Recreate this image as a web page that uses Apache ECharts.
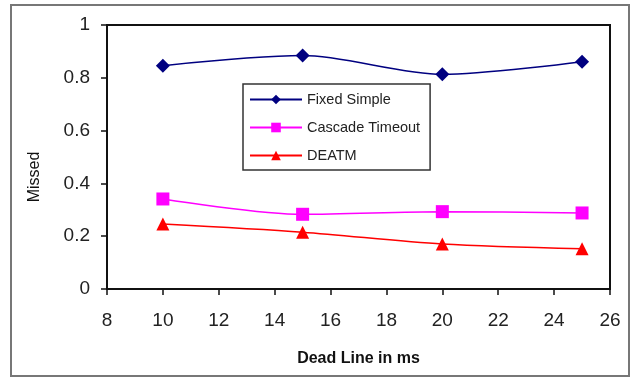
<!DOCTYPE html>
<html lang="en">
<head>
    <meta charset="UTF-8">
    <script src="https://cdn.jsdelivr.net/npm/echarts@6/dist/echarts.min.js"></script>
    <title>Missed vs Dead Line</title>
    <style>
        html, body { margin: 0; padding: 0; background: #fff; }
        #main { width: 631px; height: 378px; }
    </style>
</head>
<body>
    <div id="main"></div>
    <script>
        var deadLines = [10, 15, 20, 25];
        var fixedSimple = [0.846, 0.884, 0.813, 0.861];
        var cascadeTimeout = [0.341, 0.283, 0.293, 0.288];
        var deatm = [0.246, 0.215, 0.170, 0.152];

        function pairs(vals) {
            return deadLines.map(function (x, i) { return [x, vals[i]]; });
        }

        var chart = echarts.init(document.getElementById('main'));
        var font = 'Liberation Sans, Arial, sans-serif';

        var option = {
            animation: false,
            graphic: [{
                type: 'rect',
                shape: { x: 11, y: 5, width: 618, height: 371 },
                style: { fill: 'none', stroke: '#777', lineWidth: 2 }
            }],
            grid: {
                left: 107, right: 21, top: 25, bottom: 89,
                show: true, borderColor: '#111', borderWidth: 2
            },
            legend: {
                orient: 'vertical',
                left: 243, top: 84,
                padding: [8, 10, 7, 6],
                itemGap: 13,
                itemWidth: 52, itemHeight: 12,
                borderColor: '#333', borderWidth: 1.5,
                backgroundColor: '#fff',
                textStyle: { fontFamily: font, fontSize: 14.5, color: '#222' },
                data: ['Fixed Simple', 'Cascade Timeout', 'DEATM']
            },
            xAxis: {
                type: 'value',
                min: 8, max: 26, interval: 2,
                name: 'Dead Line in ms',
                nameLocation: 'middle',
                nameGap: 62,
                nameTextStyle: { fontFamily: font, fontSize: 16, fontWeight: 'bold', color: '#111' },
                axisLine: { lineStyle: { color: '#111', width: 2 } },
                axisTick: { show: true, length: 6, lineStyle: { color: '#111', width: 1.5 } },
                axisLabel: { fontFamily: font, fontSize: 19, color: '#222', margin: 22 },
                splitLine: { show: false }
            },
            yAxis: {
                type: 'value',
                min: 0, max: 1, interval: 0.2,
                name: 'Missed',
                nameLocation: 'middle',
                nameGap: 64,
                nameTextStyle: { fontFamily: font, fontSize: 16, color: '#111', padding: [0, 40, 0, 0] },
                axisLine: { lineStyle: { color: '#111', width: 2 } },
                axisTick: { show: true, length: 6, lineStyle: { color: '#111', width: 1.5 } },
                axisLabel: { fontFamily: font, fontSize: 19, color: '#222', margin: 17 },
                splitLine: { show: false }
            },
            series: [
                {
                    name: 'Fixed Simple', type: 'line', smooth: 0.3,
                    data: pairs(fixedSimple),
                    symbol: 'diamond', symbolSize: 14,
                    lineStyle: { color: '#000080', width: 1.5 },
                    itemStyle: { color: '#000080' }
                },
                {
                    name: 'Cascade Timeout', type: 'line', smooth: 0.3,
                    data: pairs(cascadeTimeout),
                    symbol: 'rect', symbolSize: 13,
                    lineStyle: { color: '#ff00ff', width: 1.5 },
                    itemStyle: { color: '#ff00ff' }
                },
                {
                    name: 'DEATM', type: 'line', smooth: 0.3,
                    data: pairs(deatm),
                    symbol: 'triangle', symbolSize: 13,
                    lineStyle: { color: '#ff0000', width: 1.5 },
                    itemStyle: { color: '#ff0000' }
                }
            ]
        };

        chart.setOption(option);
    </script>
</body>
</html>
